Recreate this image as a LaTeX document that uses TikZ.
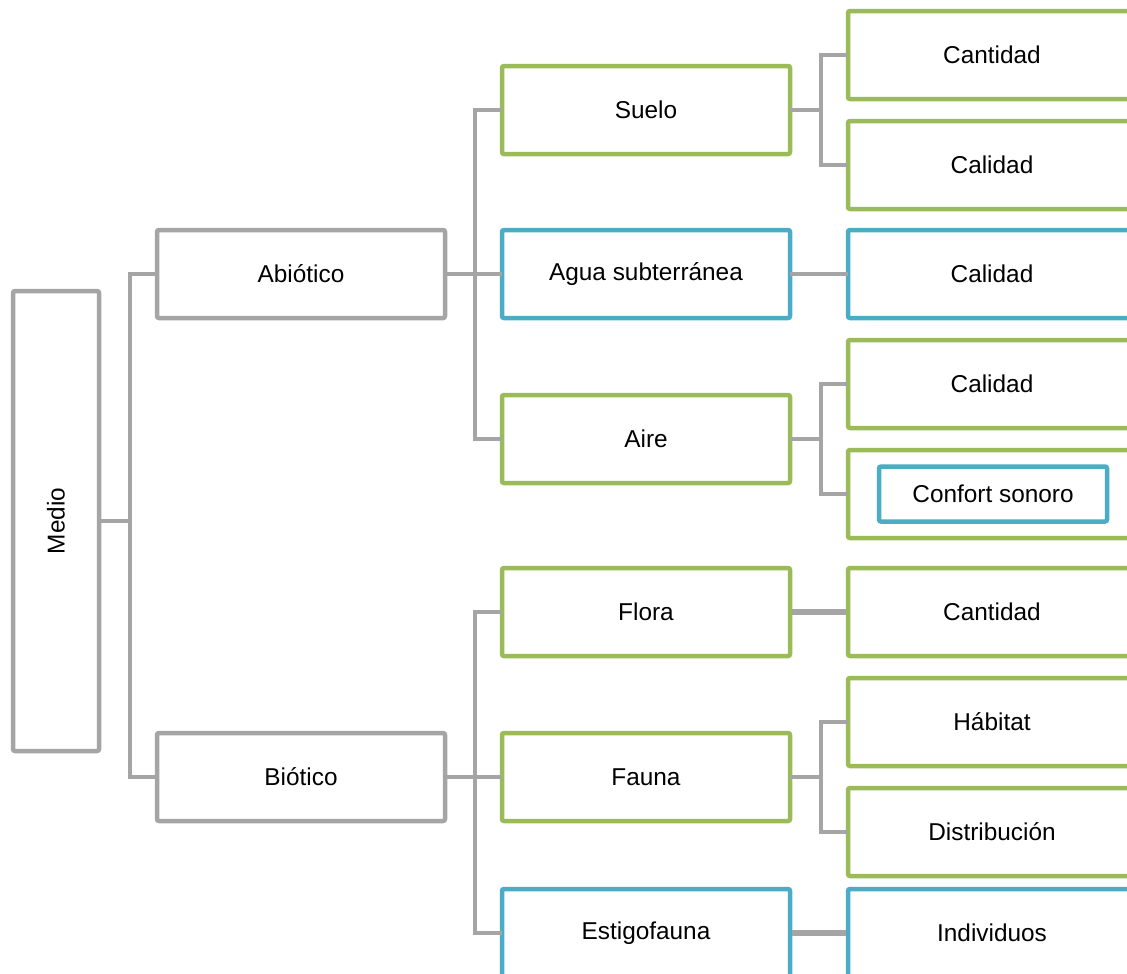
\documentclass[tikz,border=0pt]{standalone}
\usepackage{fontspec}
\setmainfont{Liberation Sans}
\usepackage{tikz}
\usetikzlibrary{positioning}

\definecolor{verde}{HTML}{9BBB59}
\definecolor{azul}{HTML}{4BACC6}
\definecolor{gris}{HTML}{A5A5A5}

\tikzset{
  caja/.style={draw=gris, line width=1.35mm, rounded corners=0.6mm, fill=white,
    minimum width=288*0.3mm, minimum height=88*0.3mm, inner sep=0pt,
    font=\fontsize{20.8}{24}\selectfont},
  cajav/.style={caja, draw=verde},
  cajaa/.style={caja, draw=azul},
  enlace/.style={draw=gris, line width=1.2mm, line cap=rect},
  grueso/.style={enlace, line width=1.9mm, line cap=butt},
}

\begin{document}
\begin{tikzpicture}[x=0.3mm, y=-0.3mm]
\useasboundingbox (0,0) rectangle (1127,974);
\clip (0,0) rectangle (1127,974);

% raiz y primer nivel
\node[caja, minimum width=86*0.3mm, minimum height=460*0.3mm] (medio) at (56,521) {\rotatebox{90}{Medio}};
\node[caja] (abio) at (301,274) {Abiótico};
\node[caja] (bio) at (301,777) {Biótico};

% segundo nivel
\node[cajav] (suelo) at (646,110) {Suelo};
\node[cajaa] (agua) at (646,274) {Agua subterránea};
\node[cajav] (aire) at (646,439) {Aire};
\node[cajav] (flora) at (646,612) {Flora};
\node[cajav] (fauna) at (646,777) {Fauna};
\node[cajaa] (estigo) at (646,933) {Estigofauna};

% tercer nivel
\node[cajav] (cant1) at (992,55) {Cantidad};
\node[cajav] (cal1) at (992,165) {Calidad};
\node[cajaa] (cal2) at (992,274) {Calidad};
\node[cajav] (cal3) at (992,384) {Calidad};
\node[cajav] (ruido) at (992,494) {};
\node[cajaa, minimum width=228*0.3mm, minimum height=55*0.3mm] (confort) at (993,494) {Confort sonoro};
\node[cajav] (cant2) at (992,612) {Cantidad};
\node[cajav] (habitat) at (992,722) {Hábitat};
\node[cajav] (distr) at (992,832) {Distribución};
\node[cajaa] (indiv) at (992,933) {Individuos};

% conectores
\draw[enlace] (medio.east) -- ++(29,0) coordinate (m1);
\draw[enlace] (m1) |- (abio.west);
\draw[enlace] (m1) |- (bio.west);

\draw[enlace] (abio.east) -- ++(28,0) coordinate (a1);
\draw[enlace] (a1) |- (suelo.west);
\draw[enlace] (a1) |- (agua.west);
\draw[enlace] (a1) |- (aire.west);

\draw[enlace] (bio.east) -- ++(28,0) coordinate (b1);
\draw[enlace] (b1) |- (flora.west);
\draw[enlace] (b1) |- (fauna.west);
\draw[enlace] (b1) |- (estigo.west);

\draw[enlace] (suelo.east) -- ++(29,0) coordinate (s1);
\draw[enlace] (s1) |- (cant1.west);
\draw[enlace] (s1) |- (cal1.west);
\draw[enlace] (agua.east) -- (cal2.west);

\draw[enlace] (aire.east) -- ++(29,0) coordinate (r1);
\draw[enlace] (r1) |- (cal3.west);
\draw[enlace] (r1) |- (ruido.west);

\draw[grueso] (flora.east) -- (cant2.west);
\draw[enlace] (fauna.east) -- ++(29,0) coordinate (f1);
\draw[enlace] (f1) |- (habitat.west);
\draw[enlace] (f1) |- (distr.west);
\draw[grueso] (estigo.east) -- (indiv.west);
\end{tikzpicture}
\end{document}
